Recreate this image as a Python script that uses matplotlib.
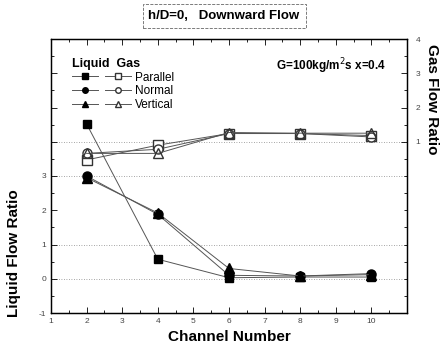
import matplotlib; matplotlib.use("Agg")
import matplotlib.pyplot as plt
from matplotlib.lines import Line2D
from matplotlib.ticker import MultipleLocator

channels = [2, 4, 6, 8, 10]
# liquid flow ratio (left axis)
liq_parallel = [4.52, 0.57, 0.03, 0.05, 0.05]
liq_normal = [3.0, 1.88, 0.10, 0.08, 0.15]
liq_vertical = [2.95, 1.92, 0.30, 0.08, 0.12]
# gas flow ratio (right axis)
gas_parallel = [0.47, 0.90, 1.24, 1.24, 1.18]
gas_normal = [0.66, 0.78, 1.24, 1.24, 1.14]
gas_vertical = [0.66, 0.66, 1.27, 1.25, 1.25]
names = ["Parallel", "Normal", "Vertical"]
xticks = [1, 2, 3, 4, 5, 6, 7, 8, 9, 10]
left_ticks = [-1, 0, 1, 2, 3]
right_ticks = [1, 2, 3, 4]

plt.rcParams["font.family"] = ["Liberation Sans", "DejaVu Sans"]
fig = plt.figure(figsize=(4.46, 3.57), dpi=100)
ax = fig.add_axes([51/446, 1 - 313/357, 356/446, 274/357])
ax2 = ax.twinx()

ln = dict(color="#555555", lw=0.7)
ax.plot(channels, liq_parallel, marker="s", ms=5.5, mfc="black", mec="black", **ln)
ax.plot(channels, liq_normal, marker="o", ms=6.5, mfc="black", mec="black", **ln)
ax.plot(channels, liq_vertical, marker="^", ms=6.5, mfc="black", mec="black", **ln)
ax2.plot(channels, gas_parallel, marker="s", ms=6.5, mfc="white", mec="#333333", **ln)
ax2.plot(channels, gas_normal, marker="o", ms=6.5, mfc="white", mec="#333333", **ln)
ax2.plot(channels, gas_vertical, marker="^", ms=6.5, mfc="none", mec="#333333", **ln)

ax.set_xlim(1, 11)
ax.set_ylim(-1, 7)
ax2.set_ylim(-4, 4)
for v in [0, 1, 3, 4]:
    ax.axhline(v, color="#888888", lw=0.6, ls=(0, (1, 2)), zorder=0)

ax.set_xticks(xticks)
ax.xaxis.set_minor_locator(MultipleLocator(0.5))
ax.set_yticks(left_ticks + [4, 5, 6, 7])
ax.set_yticklabels([str(t) for t in left_ticks] + ["", "", "", ""])
ax.yaxis.set_minor_locator(MultipleLocator(0.5))
ax2.set_yticks(right_ticks)
ax2.yaxis.set_minor_locator(MultipleLocator(0.5))
ax.tick_params(which="both", direction="in", top=True, labelsize=6, labelcolor="#444444", width=0.6)
ax.tick_params(which="major", length=4)
ax.tick_params(which="minor", length=2)
ax2.tick_params(which="both", direction="in", labelsize=6, labelcolor="#444444", width=0.6)
ax2.tick_params(which="major", length=4, pad=6)
ax2.tick_params(which="minor", length=2)
for a in (ax, ax2):
    for s in a.spines.values():
        s.set_linewidth(0.9)

ax.set_xlabel("Channel Number", fontsize=11, fontweight="bold")
ax.set_ylabel("Liquid Flow Ratio", fontsize=11, fontweight="bold")
ax.yaxis.set_label_coords(-0.085, 0.22)
ax2.set_ylabel("Gas Flow Ratio", fontsize=11, fontweight="bold", rotation=270, labelpad=12)
ax2.yaxis.set_label_coords(1.09, 0.78)

liq_h = [Line2D([], [], color="#555555", lw=0.7, marker=m, ms=4, mfc="black", mec="black") for m in "so^"]
gas_h = [Line2D([], [], color="#555555", lw=0.7, marker=m, ms=4, mfc="white", mec="#333333") for m in "so^"]
leg = ax.legend(liq_h + gas_h, ["", "", ""] + names, ncol=2, title="Liquid  Gas",
                loc="upper left", bbox_to_anchor=(0.03, 0.97), frameon=False,
                fontsize=8.5, handlelength=2.2, columnspacing=0.3, handletextpad=0.3,
                labelspacing=0.15, alignment="left")
leg.get_title().set_fontweight("bold")
leg.get_title().set_fontsize(9)

ax.text(0.94, 0.9, "G=100kg/m$^2$s x=0.4", transform=ax.transAxes, ha="right", va="center",
        fontsize=8.5, fontweight="bold")
fig.text(224/446, 1 - 16/357, "h/D=0,   Downward Flow", ha="center", va="center",
         fontsize=9.5, fontweight="bold",
         bbox=dict(boxstyle="square,pad=0.45", fc="white", ec="#666666", lw=0.6, ls="--"))

fig.savefig("out.png", dpi=100)
